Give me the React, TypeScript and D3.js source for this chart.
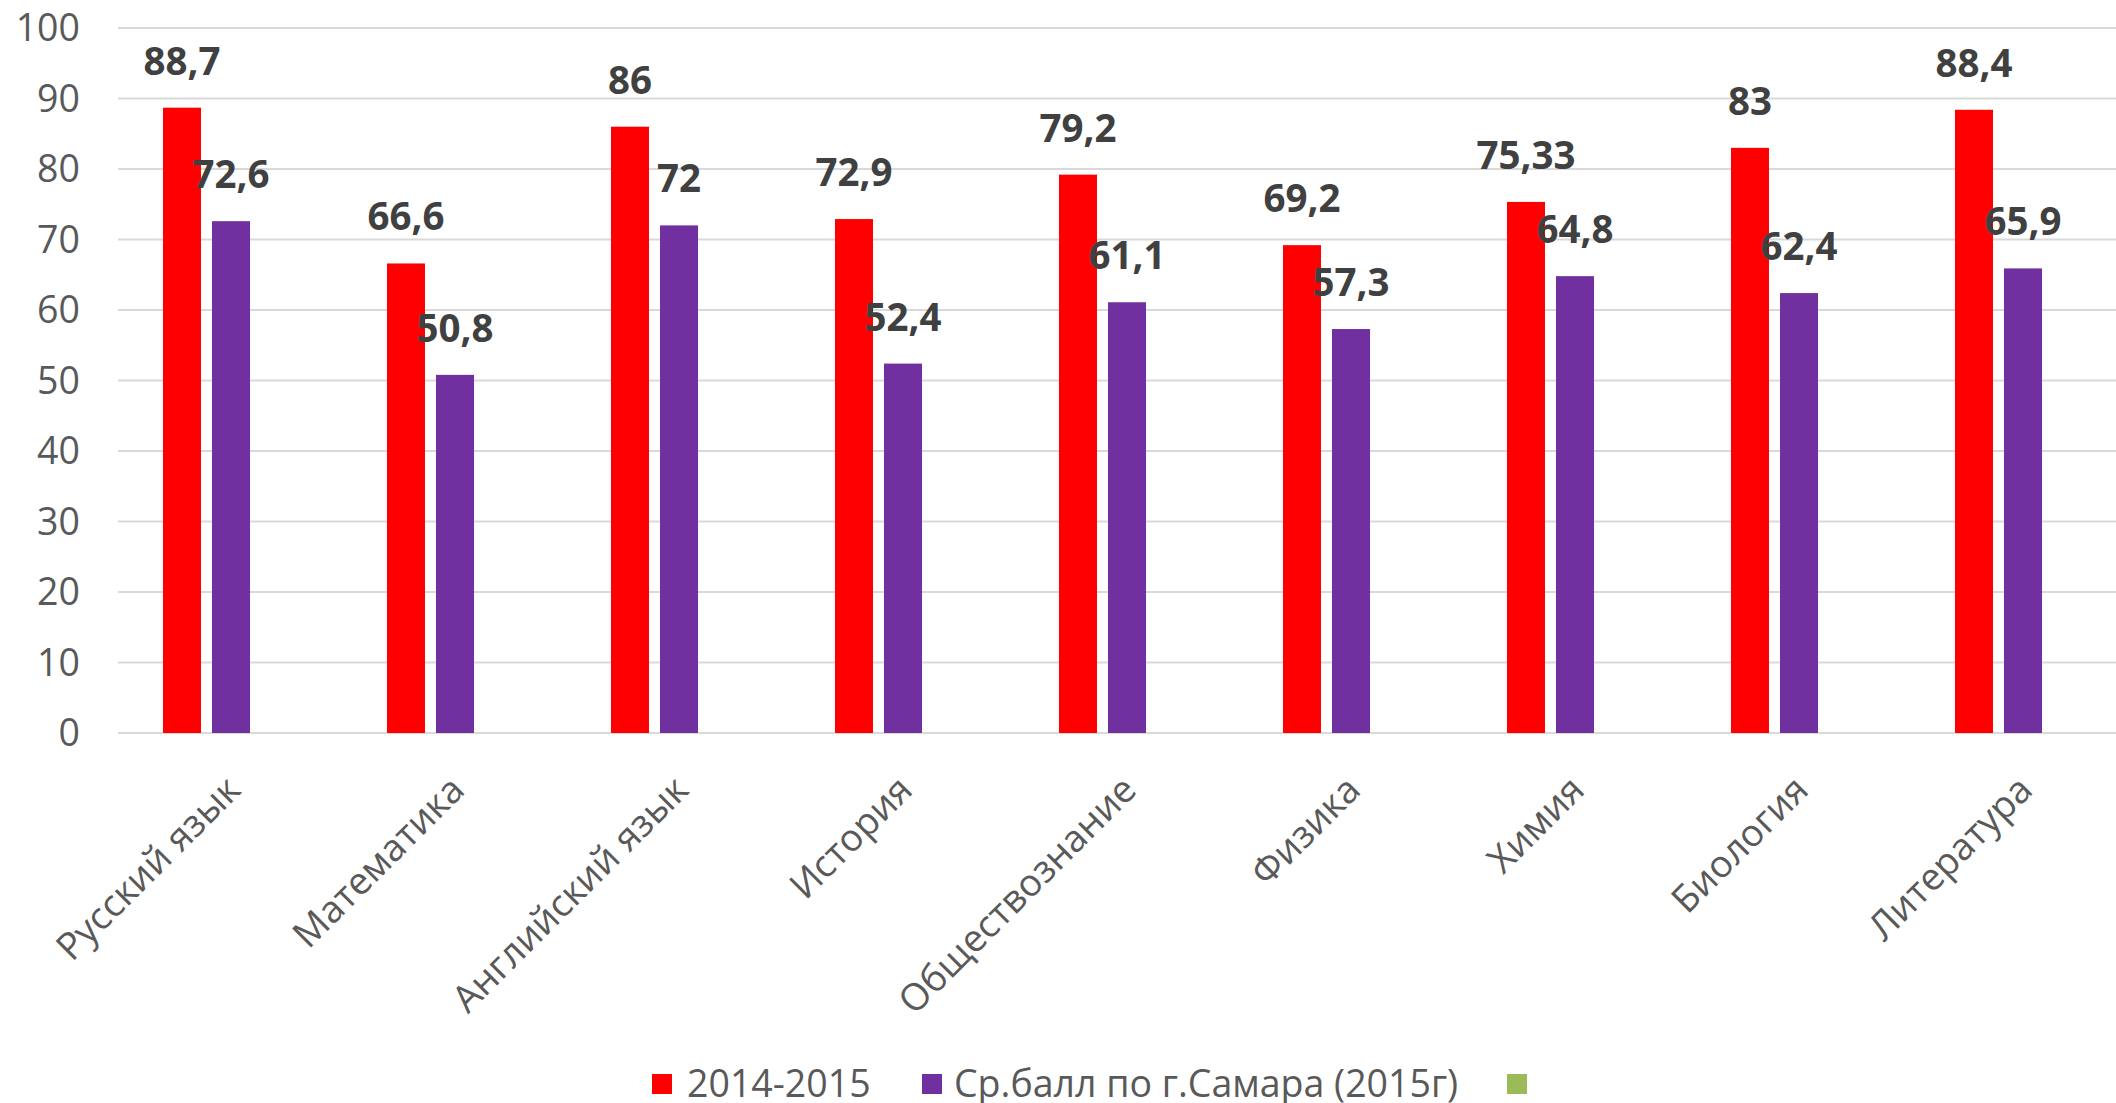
import { useMemo } from 'react';
import * as d3 from 'd3';

// chart data
const subjects = [
	'Русский язык',
	'Математика',
	'Английский язык',
	'История',
	'Обществознание',
	'Физика',
	'Химия',
	'Биология',
	'Литература',
];
const school = [88.7, 66.6, 86, 72.9, 79.2, 69.2, 75.33, 83, 88.4];
const city = [72.6, 50.8, 72, 52.4, 61.1, 57.3, 64.8, 62.4, 65.9];
const seriesNames = ['2014-2015', 'Ср.балл по г.Самара (2015г)', ''];
const seriesColors = ['#FF0000', '#7030A0', '#9BBB59'];
const yTicks = [0, 10, 20, 30, 40, 50, 60, 70, 80, 90, 100];

const W = 2116;
const H = 1103;
const FONT = '"Open Sans", "Noto Sans", sans-serif';
const FS = 37.5;

const fmt = (v: number) => String(v).replace('.', ',');

export default function App() {
	const x = useMemo(() => d3.scaleBand<string>().domain(subjects).range([94.5, 2110.5]).padding(0), []);
	const inner = useMemo(
		() => d3.scaleBand<string>().domain(['0', '1']).range([0, 87]).paddingInner(0.2245).paddingOuter(0),
		[]
	);
	const y = useMemo(() => d3.scaleLinear().domain([0, 100]).range([733, 28]), []);

	const series = [school, city];
	const groupOffset = (x.bandwidth() - 87) / 2;

	// legend layout
	const legend = [
		{ box: 652, text: 687 },
		{ box: 922, text: 954 },
		{ box: 1507, text: 0 },
	];

	return (
		<svg
			width={W}
			height={H}
			style={{ position: 'absolute', left: 0, top: 0, background: '#fff' }}
			fontFamily={FONT}
		>
			{/* gridlines */}
			{yTicks.map((t) => (
				<line key={t} x1={118} x2={W} y1={y(t)} y2={y(t)} stroke="#D9D9D9" strokeWidth={2} />
			))}
			{/* y labels */}
			{yTicks.map((t) => (
				<text key={'l' + t} x={80} y={y(t)} dy="0.35em" textAnchor="end" fontSize={FS} fill="#595959">
					{t}
				</text>
			))}
			{/* bars */}
			{subjects.map((s, i) => {
				const gx = (x(s) as number) + groupOffset;
				return (
					<g key={s}>
						{series.map((vals, k) => {
							const bx = gx + (inner(String(k)) as number);
							const bw = inner.bandwidth();
							return (
								<g key={k}>
									<rect x={bx} y={y(vals[i])} width={bw} height={y(0) - y(vals[i])} fill={seriesColors[k]} />
									<text
										x={bx + bw / 2}
										y={y(vals[i]) - 33}
										textAnchor="middle"
										fontSize={38.5}
										fontWeight="bold"
										fill="#404040"
									>
										{fmt(vals[i])}
									</text>
								</g>
							);
						})}
					</g>
				);
			})}
			{/* x labels */}
			{subjects.map((s) => {
				const cx = (x(s) as number) + x.bandwidth() / 2 + 36;
				const cy = 792;
				return (
					<text
						key={'x' + s}
						x={cx}
						y={cy}
						textAnchor="end"
						fontSize={FS}
						fill="#595959"
						transform={`rotate(-45 ${cx} ${cy})`}
					>
						{s}
					</text>
				);
			})}
			{/* legend */}
			{legend.map((l, k) => (
				<g key={'lg' + k}>
					<rect x={l.box} y={1074} width={20} height={20} fill={seriesColors[k]} />
					{seriesNames[k] && (
						<text x={l.text} y={1084} dy="0.35em" fontSize={FS} fill="#595959">
							{seriesNames[k]}
						</text>
					)}
				</g>
			))}
		</svg>
	);
}
